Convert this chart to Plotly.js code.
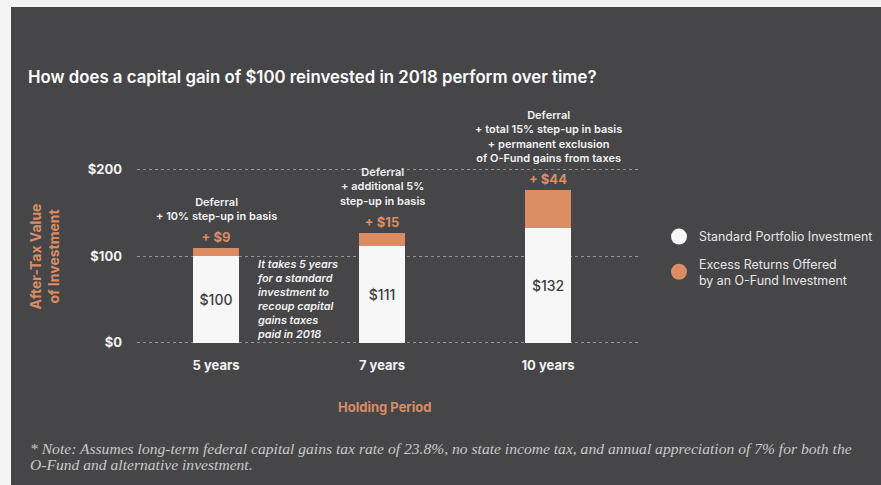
<!DOCTYPE html>
<html>
<head>
<meta charset="utf-8">
<script src="https://cdn.plot.ly/plotly-3.0.1.min.js"></script>
<style>
  html, body { margin: 0; padding: 0; background: #f4f4f4; width: 881px; height: 485px; overflow: hidden; }
  #chart { position: absolute; left: 11px; top: 7px; width: 870px; height: 478px; }
</style>
</head>
<body>
<div id="chart"></div>
<script>
// ---- data ----
const categories = ['5 years', '7 years', '10 years'];
const standardValues = [100, 111, 132];
const excessValues = [9, 15, 44];
const standardLabels = ['$100', '$111', '$132'];
const excessLabels = ['+ $9', '+ $15', '+ $44'];
const benefitNotes = [
  'Deferral<br>+ 10% step-up in basis',
  'Deferral<br>+ additional 5%<br>step-up in basis',
  'Deferral<br>+ total 15% step-up in basis<br>+ permanent exclusion<br>of O-Fund gains from taxes'
];
const yTickVals = [0, 100, 200];
const yTickText = ['$0', '$100', '$200'];
const seriesNames = ['Standard Portfolio Investment', 'Excess Returns Offered<br>by an O-Fund Investment'];
const footnoteLines = [
  '* Note: Assumes long-term federal capital gains tax rate of 23.8%, no state income tax, and annual appreciation of 7% for both the',
  'O-Fund and alternative investment.'
];

// ---- styles ----
const BG = '#464648';
const ORANGE = '#dc8c63';
const WHITE = '#f7f7f7';
const FONT = 'Inter, "Open Sans", sans-serif';

const totals = standardValues.map((v, i) => v + excessValues[i]);

const traces = [
  {
    type: 'bar', x: categories, y: standardValues, name: seriesNames[0],
    marker: { color: WHITE, line: { width: 0 } },
    text: standardLabels, textposition: 'inside', insidetextanchor: 'middle',
    textangle: 0, constraintext: 'none',
    textfont: { family: FONT, size: 14, color: '#3e3e40', weight: 500 },
    width: 0.28, showlegend: false, hoverinfo: 'skip'
  },
  {
    type: 'bar', x: categories, y: excessValues, name: seriesNames[1],
    marker: { color: ORANGE, line: { width: 0 } },
    text: excessLabels, textposition: 'outside', textangle: 0, constraintext: 'none',
    textfont: { family: FONT, size: 13, color: ORANGE, weight: 700 },
    cliponaxis: false,
    width: 0.28, showlegend: false, hoverinfo: 'skip'
  },
  {
    type: 'scatter', mode: 'markers', x: [null], y: [null], name: seriesNames[0],
    marker: { color: WHITE, size: 17, symbol: 'circle' }, legendgroup: 'a'
  },
  {
    type: 'scatter', mode: 'markers', x: [null], y: [null], name: seriesNames[1],
    marker: { color: ORANGE, size: 17, symbol: 'circle' }, legendgroup: 'b'
  }
];

const annotations = [];
categories.forEach((c, i) => {
  annotations.push({
    xref: 'x', yref: 'y', x: c, y: totals[i], yanchor: 'bottom', yshift: 23,
    text: benefitNotes[i], showarrow: false, align: 'center',
    font: { family: FONT, size: 11, color: '#f2f2f2', weight: 600 }
  });
});
annotations.push({
  xref: 'x', yref: 'y', x: 0, y: 0, xanchor: 'left', yanchor: 'bottom', xshift: 39, yshift: 0,
  text: '<i>It takes 5 years<br>for a standard<br>investment to<br>recoup capital<br>gains taxes<br>paid in 2018</i>',
  showarrow: false, align: 'left',
  font: { family: FONT, size: 10.8, color: '#f2f2f2', weight: 600 }
});
annotations.push({
  xref: 'paper', yref: 'paper', x: 0, y: 0.41, xshift: -93, xanchor: 'center', yanchor: 'middle',
  text: 'After-Tax Value<br>of Investment', textangle: -90, showarrow: false,
  font: { family: FONT, size: 14, color: ORANGE, weight: 700 }
});
annotations.push({
  xref: 'paper', yref: 'paper', x: 0.5, y: 0, yshift: -60, xshift: -4, xanchor: 'center', yanchor: 'middle',
  text: 'Holding Period', showarrow: false,
  font: { family: FONT, size: 13, color: ORANGE, weight: 700 }
});
footnoteLines.forEach((line, i) => {
  annotations.push({
    xref: 'paper', yref: 'paper', x: 0, y: 0, xshift: -109, yshift: -101 - 16 * i,
    xanchor: 'left', yanchor: 'middle',
    text: '<i>' + line + '</i>', showarrow: false, align: 'left',
    font: { family: '"Liberation Serif", serif', size: 15.6, color: '#c9c9c9' }
  });
});

const layout = {
  width: 870, height: 478,
  paper_bgcolor: BG, plot_bgcolor: BG,
  margin: { l: 126, r: 241, t: 119, b: 138 },
  barmode: 'stack',
  title: {
    text: 'How does a capital gain of $100 reinvested in 2018 perform over time?',
    xref: 'container', x: 17 / 870, xanchor: 'left',
    yref: 'container', y: 1 - 70 / 478, yanchor: 'middle',
    font: { family: FONT, size: 16.8, color: '#ffffff', weight: 600 }
  },
  xaxis: {
    type: 'category', range: [-0.476, 2.554], showgrid: false, zeroline: false,
    showline: false, ticks: '', ticklabelstandoff: 9,
    tickfont: { family: FONT, size: 13, color: '#f2f2f2', weight: 700 }
  },
  yaxis: {
    range: [-5, 250], tickvals: yTickVals, ticktext: yTickText,
    showgrid: true, gridcolor: 'rgba(210,210,210,0.55)', griddash: 'dot', gridwidth: 1,
    zeroline: false, showline: false, ticks: '', ticklabelstandoff: 14,
    tickfont: { family: FONT, size: 13, color: '#f2f2f2', weight: 700 }
  },
  legend: {
    xref: 'container', x: 648 / 870, xanchor: 'left',
    yref: 'container', y: 1 - 215 / 478, yanchor: 'top',
    bgcolor: 'rgba(0,0,0,0)', borderwidth: 0,
    tracegroupgap: 8, traceorder: 'grouped', itemsizing: 'trace',
    font: { family: FONT, size: 12.4, color: '#e6e6e6', weight: 400 }
  },
  annotations: annotations,
  bargap: 0.7
};

Plotly.newPlot('chart', traces, layout, { displayModeBar: false, staticPlot: true });
</script>
</body>
</html>
